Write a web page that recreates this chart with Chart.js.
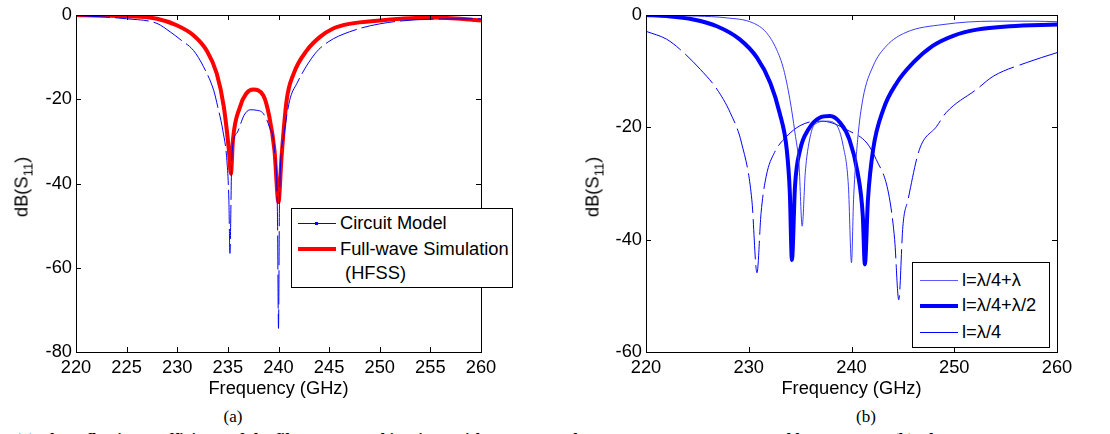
<!DOCTYPE html>
<html>
<head>
<meta charset="utf-8">
<script src="https://cdn.jsdelivr.net/npm/chart.js@4/dist/chart.umd.min.js"></script>
<style>
  body { margin: 0; width: 1110px; height: 434px; overflow: hidden; background: #fff; position: relative; font-family: "Liberation Sans", Arial, sans-serif; }
  canvas { position: absolute; top: 0; }
  .ylab { position: absolute; font-size: 18.3px; white-space: nowrap; transform: translate(-50%, -50%) rotate(-90deg); }
  .ylab sub { font-size: 13px; vertical-align: -5px; }
  .legend { position: absolute; background: #fff; border: 1.5px solid #000; box-sizing: border-box; font-size: 18.3px; }
  .row { position: absolute; left: 0; white-space: nowrap; }
  .swatch { position: absolute; }
  .cap { position: absolute; font-family: "Liberation Serif", "Times New Roman", serif; font-size: 17px; white-space: nowrap; }
</style>
</head>
<body>
<canvas id="chartA" width="560" height="400" style="left:0"></canvas>
<canvas id="chartB" width="550" height="400" style="left:560px"></canvas>

<div class="ylab" style="left:23px; top:187px">dB(S<sub>11</sub>)</div>
<div class="ylab" style="left:594px; top:187px">dB(S<sub>11</sub>)</div>

<div class="legend" style="left:291px; top:208px; width:222px; height:80px">
  <div class="swatch" style="left:6px; top:14px; width:38px; border-top:1px solid #0000ff"></div>
  <div class="swatch" style="left:23px; top:13px; width:3px; height:3px; background:#0000ff"></div>
  <div class="row" style="left:48px; top:3px">Circuit Model</div>
  <div class="swatch" style="left:6px; top:38px; width:38px; border-top:4px solid #ff0000"></div>
  <div class="row" style="left:48px; top:29px">Full-wave Simulation</div>
  <div class="row" style="left:48px; top:53px">&nbsp;(HFSS)</div>
</div>

<div class="legend" style="left:912px; top:262px; width:138px; height:86px">
  <div class="swatch" style="left:7px; top:17px; width:38px; border-top:1px solid #5a5aff"></div>
  <div class="row" style="left:49px; top:6px">l=λ/4+λ</div>
  <div class="swatch" style="left:7px; top:41px; width:38px; border-top:4px solid #0000ff"></div>
  <div class="row" style="left:49px; top:31px">l=λ/4+λ/2</div>
  <div class="swatch" style="left:7px; top:69px; width:38px; border-top:1px solid #0000ff"></div>
  <div class="row" style="left:49px; top:58px">l=λ/4</div>
</div>

<div class="cap" style="left:233px; top:417px; transform:translate(-50%,-50%)">(a)</div>
<div class="cap" style="left:866px; top:417px; transform:translate(-50%,-50%)">(b)</div>
<div class="cap" style="left:-2px; top:430px; font-weight:bold">2. (a) The reflection coefficients of the filter presented in Fig. 1 with w = 75 μm, l = 2.344 mm, w = 365 μm and l = 638.6 μm. (b) The</div>

<script>
// (a) measured vs. circuit model
const freqHfss = [220, 222, 225, 228, 230, 231.6, 232.9, 233.9, 234.6, 235.1, 235.3, 235.5, 236.2, 236.8, 237.5, 238.5, 239.1, 239.6, 240, 240.3, 240.8, 241.5, 242.8, 244.1, 245.4, 247, 250, 255, 258, 260];
const hfss = [0, -0.1, -0.3, -0.9, -2.5, -4.8, -8.4, -13.9, -21.8, -32.1, -37.7, -29.7, -21.8, -18.7, -17.7, -19.1, -24.2, -32.1, -44.4, -33.7, -20.3, -13.9, -8.4, -5.2, -3.2, -2.1, -1.3, -0.6, -0.9, -1.3];

const freqCircuit = [220, 225, 228, 229.3, 230.4, 231.6, 232.6, 233.6, 234, 234.5, 234.9, 235.1, 235.2, 235.4, 235.9, 236.6, 237.2, 237.8, 238.5, 239.1, 239.6, 239.9, 240, 240.1, 240.5, 241.1, 241.8, 243.6, 244.9, 247, 250, 255, 260];
const circuit = [-0.1, -0.9, -2, -4, -6, -8.4, -12.3, -17.9, -21.8, -27.4, -34.5, -44, -56.6, -33, -28, -23.8, -22.5, -22.6, -23.4, -26.6, -32, -48, -74.4, -44, -29, -20.3, -16.3, -9.2, -6.4, -4, -2.1, -1, -0.9];

// (b) stub length comparison
const freqL1 = [220, 225, 227.8, 230.4, 231.7, 232.7, 233.4, 234, 234.5, 234.9, 235.2, 235.5, 235.8, 236.4, 237.6, 238.5, 239.2, 239.7, 240, 240.2, 240.6, 241.1, 242.1, 243.4, 245.3, 248.9, 253.8, 257.7, 260];
const stubL1 = [0, -0.2, -0.5, -1.4, -3.1, -6.1, -9.7, -15, -21, -26.9, -37.6, -28.1, -23.4, -19.5, -18.9, -19.5, -23.4, -30.5, -44.1, -32.9, -22.2, -15, -9.1, -5.5, -3.1, -1.7, -1.1, -1.1, -1.2];

const freqL2 = [220, 222, 224.6, 226.9, 229.1, 230.8, 232.1, 233, 233.7, 234, 234.2, 234.5, 235, 235.8, 236.9, 237.9, 238.9, 239.8, 240.6, 241.1, 241.3, 241.6, 242.1, 243.1, 244.4, 246, 247.9, 249.9, 252.2, 255.4, 260];
const stubL2 = [0, -0.2, -0.8, -2, -4.3, -7.6, -12.1, -17.4, -24, -31.7, -43.6, -30.5, -24, -20.4, -18.3, -18, -19.2, -22.2, -28.1, -35.8, -44.4, -32.9, -24, -16.8, -12.1, -8.5, -5.5, -3.7, -2.6, -2, -1.7];

const freqL3 = [220, 222, 223.3, 225.3, 226.9, 228.2, 229.3, 230.3, 230.8, 231.2, 231.7, 232.5, 233.7, 235, 236.6, 237.9, 239.5, 241.5, 242.4, 243.6, 244.2, 244.6, 245, 245.5, 246.6, 248.3, 249.2, 252.2, 253.8, 257, 260];
const stubL3 = [-2.9, -4.3, -6.1, -9.7, -13.2, -17.4, -22.8, -32.9, -45.9, -35.2, -28.7, -24.5, -21.6, -19.7, -18.9, -19.1, -20.4, -22.8, -25.7, -31.7, -40, -50.7, -37.6, -32.9, -24, -19.8, -17.4, -13.2, -10.9, -8.5, -6.7];

const xTicksA = [220, 225, 230, 235, 240, 245, 250, 255, 260];
const yTicksA = [0, -20, -40, -60, -80];
const xTicksB = [220, 230, 240, 250, 260];
const yTicksB = [0, -20, -40, -60];

Chart.defaults.font.family = '"Liberation Sans", Arial, sans-serif';
Chart.defaults.font.size = 18.3;
Chart.defaults.color = '#000';

function pts(xs, ys) {
    return xs.map((x, i) => ({ x: x, y: ys[i] }));
}

// MATLAB style box with inward tick marks on all four sides
const frame = {
    id: 'frame',
    afterDraw(chart) {
        const { ctx, chartArea: a, scales: { x, y } } = chart;
        ctx.save();
        ctx.strokeStyle = '#000';
        ctx.lineWidth = 1;
        ctx.strokeRect(a.left + 0.5, a.top + 0.5, a.right - a.left, a.bottom - a.top);
        ctx.beginPath();
        x.ticks.forEach(t => {
            const px = Math.round(x.getPixelForValue(t.value)) + 0.5;
            ctx.moveTo(px, a.bottom); ctx.lineTo(px, a.bottom - 5);
            ctx.moveTo(px, a.top); ctx.lineTo(px, a.top + 5);
        });
        y.ticks.forEach(t => {
            const py = Math.round(y.getPixelForValue(t.value)) + 0.5;
            ctx.moveTo(a.left, py); ctx.lineTo(a.left + 5, py);
            ctx.moveTo(a.right, py); ctx.lineTo(a.right - 5, py);
        });
        ctx.stroke();
        ctx.restore();
    }
};

function makeOptions(xTicks, yTicks, yWidth, rightPad) {
    return {
        responsive: false,
        animation: false,
        devicePixelRatio: 1,
        layout: { padding: { top: 15, right: rightPad, left: 0, bottom: 0 } },
        plugins: { legend: { display: false }, tooltip: { enabled: false } },
        elements: { point: { radius: 0 }, line: { cubicInterpolationMode: 'monotone' } },
        scales: {
            x: {
                type: 'linear',
                min: xTicks[0],
                max: xTicks[xTicks.length - 1],
                grid: { display: false, drawTicks: false },
                border: { display: false },
                afterBuildTicks: s => { s.ticks = xTicks.map(v => ({ value: v })); },
                afterFit: s => { s.height = 48; },
                ticks: { padding: 5, maxRotation: 0 },
                title: { display: true, text: 'Frequency (GHz)', padding: 0, font: { size: 18.3, lineHeight: 1.2 } }
            },
            y: {
                type: 'linear',
                min: yTicks[yTicks.length - 1],
                max: yTicks[0],
                grid: { display: false, drawTicks: false },
                border: { display: false },
                afterBuildTicks: s => { s.ticks = yTicks.map(v => ({ value: v })); },
                afterFit: s => { s.width = yWidth; },
                ticks: { padding: 4 }
            }
        }
    };
}

new Chart(document.getElementById('chartA'), {
    type: 'line',
    data: {
        datasets: [
            { label: 'Circuit Model', data: pts(freqCircuit, circuit), borderColor: '#0000ff', borderWidth: 1, borderDash: [34, 5] },
            { label: 'Full-wave Simulation (HFSS)', data: pts(freqHfss, hfss), borderColor: '#ff0000', borderWidth: 4 }
        ]
    },
    options: makeOptions(xTicksA, yTicksA, 76, 79),
    plugins: [frame]
});

new Chart(document.getElementById('chartB'), {
    type: 'line',
    data: {
        datasets: [
            { label: 'l=λ/4+λ', data: pts(freqL1, stubL1), borderColor: '#3a3aff', borderWidth: 1 },
            { label: 'l=λ/4+λ/2', data: pts(freqL2, stubL2), borderColor: '#0000ff', borderWidth: 4 },
            { label: 'l=λ/4', data: pts(freqL3, stubL3), borderColor: '#0000ff', borderWidth: 1, borderDash: [40, 6] }
        ]
    },
    options: makeOptions(xTicksB, yTicksB, 86, 53),
    plugins: [frame]
});
</script>
</body>
</html>
